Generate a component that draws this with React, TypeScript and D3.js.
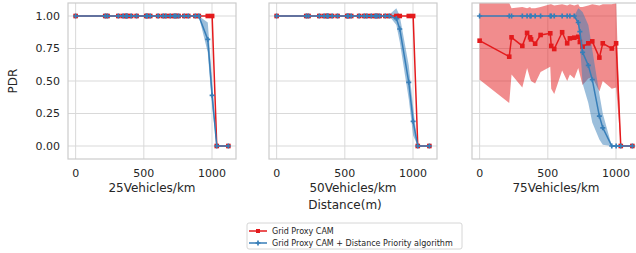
import React from "react";
import * as d3 from "d3";

// distances (m) where PDR was sampled
const distances = [0, 217, 234, 313, 348, 370, 377, 407, 447, 518, 525, 547, 605, 642, 662, 694, 723, 735, 755, 797, 826, 878, 903, 969, 1001, 1035, 1120];

// 25 vehicles/km
const red25 = [1, 1, 1, 1, 1, 1, 1, 1, 1, 1, 1, 1, 1, 1, 1, 1, 1, 1, 1, 1, 1, 1, 1, 1, 1, 0, 0];
const blue25 = [1, 1, 1, 1, 1, 1, 1, 1, 1, 1, 1, 1, 1, 1, 1, 1, 1, 1, 1, 1, 1, 1, 1, 0.82, 0.39, 0, 0];
const blue25Lo = [1, 1, 1, 1, 1, 1, 1, 1, 1, 1, 1, 1, 1, 1, 1, 1, 1, 1, 1, 1, 1, 1, 1, 0.72, 0.3, 0, 0];
const blue25Hi = [1, 1, 1, 1, 1, 1, 1, 1, 1, 1, 1, 1, 1, 1, 1, 1, 1, 1, 1, 1, 1, 1, 1, 0.95, 0.5, 0, 0];

// 50 vehicles/km
const red50 = [1, 1, 1, 1, 1, 1, 1, 1, 1, 1, 1, 1, 1, 1, 1, 1, 1, 1, 1, 1, 1, 1, 1, 1, 1, 0, 0];
const blue50 = [1, 1, 1, 1, 1, 1, 1, 1, 1, 1, 1, 1, 1, 1, 1, 1, 1, 1, 1, 1, 1, 0.98, 0.9, 0.49, 0.19, 0, 0];
const blue50Lo = [1, 1, 1, 1, 1, 1, 1, 1, 1, 1, 1, 1, 1, 1, 1, 1, 1, 1, 1, 1, 1, 0.93, 0.8, 0.36, 0.08, 0, 0];
const blue50Hi = [1, 1, 1, 1, 1, 1, 1, 1, 1, 1, 1, 1, 1, 1, 1, 1, 1, 1, 1, 1, 1.01, 1.06, 1.0, 0.62, 0.3, 0, 0];

// 75 vehicles/km
const red75 = [0.81, 0.687, 0.836, 0.77, 0.87, 0.836, 0.82, 0.787, 0.854, 0.867, 0.77, 0.746, 0.875, 0.79, 0.828, 0.833, 0.84, 0.8, 0.764, 0.79, 0.805, 0.68, 0.79, 0.75, 0.79, 0, 0];
const red75Lo = [0.51, 0.33, 0.55, 0.45, 0.6, 0.52, 0.5, 0.48, 0.57, 0.61, 0.44, 0.4, 0.58, 0.5, 0.55, 0.52, 0.6, 0.55, 0.47, 0.52, 0.53, 0.42, 0.5, 0.44, 0.45, 0, 0];
const red75Hi = [1.1, 1.1, 1.06, 1.07, 1.06, 1.07, 1.06, 1.06, 1.07, 1.09, 1.09, 1.08, 1.09, 1.08, 1.09, 1.08, 1.09, 1.07, 1.07, 1.08, 1.09, 1.08, 1.09, 1.09, 1.1, 0, 0];
const blue75 = [1, 1, 1, 1, 1, 1, 1, 1, 1, 1, 1, 1, 1, 1, 1, 1, 0.95, 0.88, 0.72, 0.62, 0.51, 0.23, 0.14, 0, 0, 0, 0];
const blue75Lo = [1, 1, 1, 1, 1, 1, 1, 1, 1, 1, 1, 1, 1, 1, 1, 1, 0.93, 0.8, 0.48, 0.33, 0.18, 0.05, 0.01, 0, 0, 0, 0];
const blue75Hi = [1, 1, 1, 1, 1, 1, 1, 1, 1, 1, 1, 1, 1, 1, 1, 1, 1.06, 1.05, 1.03, 0.93, 0.74, 0.4, 0.25, 0, 0, 0, 0];

const panelLabels = ["25Vehicles/km", "50Vehicles/km", "75Vehicles/km"];
const xTicks = [0, 500, 1000];
const yTicks = [0, 0.25, 0.5, 0.75, 1.0];
const seriesNames = ["Grid Proxy CAM", "Grid Proxy CAM + Distance Priority algorithm"];

const RED = "#e41a1c";
const BLUE = "#377eb8";
const GRID = "#d9d9d9";
const TEXT = "#262626";
const FONT = "DejaVu Sans, sans-serif";

const panels = [
  { label: panelLabels[0], red: red25, redLo: red25, redHi: red25, blue: blue25, blueLo: blue25Lo, blueHi: blue25Hi },
  { label: panelLabels[1], red: red50, redLo: red50, redHi: red50, blue: blue50, blueLo: blue50Lo, blueHi: blue50Hi },
  { label: panelLabels[2], red: red75, redLo: red75Lo, redHi: red75Hi, blue: blue75, blueLo: blue75Lo, blueHi: blue75Hi },
];

const W = 636;
const H = 253;
const panelLefts = [68, 269, 472];
const panelW = 168;
const top = 3;
const bottom = 159;

const y = d3.scaleLinear().domain([-0.1, 1.1]).range([bottom, top]);

function Panel({ p, left, showY }: any) {
  const x = d3.scaleLinear().domain([-56, 1176]).range([left, left + panelW]);
  const line = (vals: number[]) =>
    d3.line<number>().x((_, i) => x(distances[i])).y((v) => y(v))(vals) as string;
  const band = (lo: number[], hi: number[]) =>
    d3
      .area<number>()
      .x((_, i) => x(distances[i]))
      .y0((_, i) => y(lo[i]))
      .y1((_, i) => y(hi[i]))(distances) as string;
  const cross = d3.symbol().type(d3.symbolCross).size(14)() as string;
  const clipId = `clip-${left}`;
  return (
    <g>
      <defs>
        <clipPath id={clipId}>
          <rect x={left} y={top} width={panelW} height={bottom - top} />
        </clipPath>
      </defs>
      {xTicks.map((t) => (
        <line key={"gx" + t} x1={x(t)} x2={x(t)} y1={top} y2={bottom} stroke={GRID} strokeWidth={1} />
      ))}
      {yTicks.map((t) => (
        <line key={"gy" + t} x1={left} x2={left + panelW} y1={y(t)} y2={y(t)} stroke={GRID} strokeWidth={1} />
      ))}
      <g clipPath={`url(#${clipId})`}>
        <path d={band(p.redLo, p.redHi)} fill={RED} fillOpacity={0.5} stroke="none" />
        <path d={band(p.blueLo, p.blueHi)} fill={BLUE} fillOpacity={0.5} stroke="none" />
        <path d={line(p.red)} fill="none" stroke={RED} strokeWidth={1.5} />
        {p.red.map((v: number, i: number) => (
          <rect key={"r" + i} x={x(distances[i]) - 2.3} y={y(v) - 2.3} width={4.6} height={4.6} fill={RED} />
        ))}
        <path d={line(p.blue)} fill="none" stroke={BLUE} strokeWidth={1.5} />
        {p.blue.map((v: number, i: number) => (
          <path key={"b" + i} d={cross} transform={`translate(${x(distances[i])},${y(v)})`} fill={BLUE} />
        ))}
      </g>
      <rect x={left} y={top} width={panelW} height={bottom - top} fill="none" stroke="#cccccc" strokeWidth={1.2} />
      {xTicks.map((t) => (
        <text key={"tx" + t} x={x(t)} y={177} textAnchor="middle" fontSize={11} fill={TEXT} fontFamily={FONT}>
          {t}
        </text>
      ))}
      {showY &&
        yTicks.map((t) => (
          <text key={"ty" + t} x={left - 8} y={y(t)} dy="0.35em" textAnchor="end" fontSize={11} fill={TEXT} fontFamily={FONT}>
            {t.toFixed(2)}
          </text>
        ))}
      <text x={left + panelW / 2} y={192} textAnchor="middle" fontSize={12} fill={TEXT} fontFamily={FONT}>
        {p.label}
      </text>
    </g>
  );
}

export default function App() {
  const cross = d3.symbol().type(d3.symbolCross).size(14)() as string;
  return (
    <svg width={W} height={H} style={{ position: "absolute", left: 0, top: 0, background: "#fff" }}>
      <rect x={0} y={0} width={W} height={H} fill="#fff" />
      {panels.map((p, i) => (
        <Panel key={i} p={p} left={panelLefts[i]} showY={i === 0} />
      ))}
      <text transform={`translate(17,81) rotate(-90)`} textAnchor="middle" fontSize={12} fill={TEXT} fontFamily={FONT}>
        PDR
      </text>
      <text x={345} y={209} textAnchor="middle" fontSize={12} fill={TEXT} fontFamily={FONT}>
        Distance(m)
      </text>
      <g>
        <rect x={247} y={223} width={215} height={26} rx={2} fill="#fff" stroke="#cccccc" strokeWidth={0.8} />
        <line x1={249} x2={267} y1={231} y2={231} stroke={RED} strokeWidth={1.5} />
        <rect x={256} y={229} width={4} height={4} fill={RED} />
        <text x={272} y={231} dy="0.35em" fontSize={8} fill={TEXT} fontFamily={FONT}>
          {seriesNames[0]}
        </text>
        <line x1={249} x2={267} y1={243} y2={243} stroke={BLUE} strokeWidth={1.5} />
        <path d={cross} transform="translate(258,243)" fill={BLUE} />
        <text x={272} y={243} dy="0.35em" fontSize={8} fill={TEXT} fontFamily={FONT}>
          {seriesNames[1]}
        </text>
      </g>
    </svg>
  );
}
